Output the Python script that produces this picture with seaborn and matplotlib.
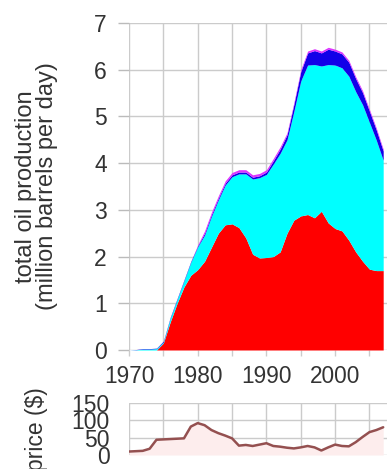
# %%
import matplotlib
matplotlib.use("Agg")
import matplotlib.pyplot as plt
import seaborn as sns
import pandas as pd

# %%
# production by layer (million barrels per day)
years = list(range(1970, 2008))
red = [0, 0, 0, 0, 0, 0.15, 0.6, 1.0, 1.35, 1.6,
       1.72, 1.9, 2.2, 2.5, 2.68, 2.7, 2.62, 2.4, 2.05, 1.97,
       1.98, 2.0, 2.1, 2.5, 2.78, 2.87, 2.9, 2.83, 2.97, 2.72,
       2.6, 2.55, 2.35, 2.1, 1.9, 1.73, 1.7, 1.7]
cyan = [0, 0.005, 0.02, 0.02, 0.03, 0.02, 0.08, 0.08, 0.13, 0.28,
        0.49, 0.56, 0.66, 0.71, 0.85, 1.01, 1.15, 1.37, 1.61, 1.72,
        1.78, 1.98, 2.11, 2.0, 2.33, 2.89, 3.2, 3.28, 3.11, 3.39,
        3.5, 3.49, 3.51, 3.43, 3.35, 3.14, 2.79, 2.36]
blue = [0, 0.005, 0.01, 0.01, 0.01, 0.02, 0.02, 0.02, 0.02, 0.02,
        0.02, 0.04, 0.04, 0.04, 0.04, 0.04, 0.04, 0.04, 0.04, 0.04,
        0.05, 0.07, 0.09, 0.11, 0.15, 0.2, 0.26, 0.3, 0.28, 0.33,
        0.3, 0.3, 0.3, 0.28, 0.26, 0.24, 0.22, 0.2]
magenta = [0, 0, 0, 0, 0, 0, 0, 0, 0, 0,
           0.02, 0.05, 0.05, 0.05, 0.05, 0.05, 0.05, 0.05, 0.05, 0.05,
           0.05, 0.05, 0.05, 0.04, 0.04, 0.04, 0.04, 0.04, 0.04, 0.04,
           0.04, 0.04, 0.04, 0.04, 0.04, 0.04, 0.04, 0.04]

# oil price ($)
price = [10, 11, 12, 18, 44, 45, 46, 47, 48, 82,
         92, 86, 72, 63, 56, 48, 27, 29, 26, 30,
         34, 26, 24, 21, 19, 22, 26, 22, 13, 22,
         30, 26, 25, 37, 52, 66, 72, 80]

year_ticks = list(range(1970, 2010, 5))
year_labels = ["1970", "", "1980", "", "1990", "", "2000", ""]
prod_ticks = list(range(0, 8))
price_ticks = [0, 50, 100, 150]

df_price = pd.DataFrame({"year": years, "price": price})

# %%
sns.set_style("white")
plt.rcParams["font.family"] = ["Liberation Sans", "DejaVu Sans"]

fig = plt.figure(figsize=(3.87, 4.69), dpi=100)
ax = fig.add_axes([129 / 387, 119 / 469, 258 / 387, 327 / 469])
ax2 = fig.add_axes([129 / 387, 14 / 469, 258 / 387, 52 / 469])

xmax = 1970 + 258 / 6.87
grid_kw = dict(color="#cbcbcb", linewidth=1.0)

ax.stackplot(years, red, cyan, blue, magenta,
             colors=["#ff0000", "#00ffff", "#1200e8", "#dd33ff"],
             linewidth=0, zorder=3)
ax.set_xlim(1970, xmax)
ax.set_ylim(0, 7)
ax.set_xticks(year_ticks)
ax.set_xticklabels(year_labels)
ax.set_yticks(prod_ticks)
ax.grid(True, **grid_kw)
ax.set_axisbelow(True)
for s in ax.spines.values():
    s.set_visible(False)
ax.tick_params(axis="y", length=8, width=1, color="#bbbbbb", pad=8,
               labelsize=16.5, labelcolor="#333333", left=True)
ax.tick_params(axis="x", length=4, width=1, color="#cccccc", pad=7,
               labelsize=16.3, labelcolor="#333333", bottom=True)
ax.set_ylabel("total oil production\n(million barrels per day)",
              fontsize=17, color="#333333", linespacing=0.95)
ax.yaxis.set_label_coords(-0.275, 0.5)

# %%
ax2.fill_between(years, price, color="#fdeded", linewidth=0, zorder=2)
sns.lineplot(data=df_price, x="year", y="price", ax=ax2,
             color="#945050", linewidth=1.8, zorder=3)
ax2.set_xlim(1970, xmax)
ax2.set_ylim(0, 150)
ax2.set_xticks(year_ticks)
ax2.set_xticklabels([])
ax2.set_yticks(price_ticks)
ax2.grid(True, **grid_kw)
ax2.set_axisbelow(True)
for s in ax2.spines.values():
    s.set_visible(False)
ax2.tick_params(axis="y", length=0, pad=14, labelsize=16.5,
                labelcolor="#333333")
ax2.tick_params(axis="x", length=0)
ax2.set_xlabel("")
ax2.set_ylabel("price ($)", fontsize=16.5, color="#333333")
ax2.yaxis.set_label_coords(-0.315, 0.5)

fig.savefig("out.png", dpi=100)
